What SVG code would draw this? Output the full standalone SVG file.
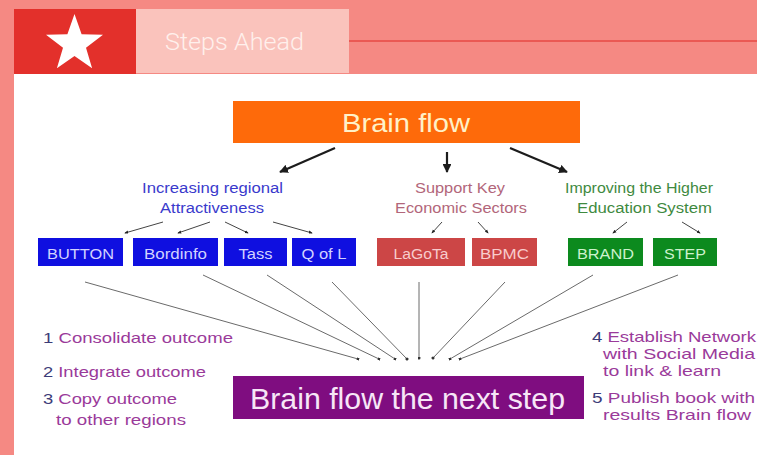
<svg xmlns="http://www.w3.org/2000/svg" width="757" height="455" viewBox="0 0 757 455">
<defs>
<style>
.t{font-family:"Liberation Sans",Arial,sans-serif}
.box{stroke:none}
.btxt{font-family:"Liberation Sans",Arial,sans-serif;font-size:14px;text-anchor:middle}
.big{stroke:#1c1c1c;stroke-width:2.2;fill:none}
.small{stroke:#444;stroke-width:1;fill:none}
.thin{stroke:#6a6a6a;stroke-width:1;fill:none}
.num{fill:#3c3c78}
.lst{fill:#9a3a9a}
</style>
<marker id="ah" viewBox="0 0 10 10" refX="9" refY="5" markerWidth="4" markerHeight="4" orient="auto" markerUnits="strokeWidth">
<path d="M0,0 L10,5 L0,10 z" fill="#1c1c1c"/>
</marker>
<marker id="sh" viewBox="0 0 10 10" refX="8" refY="5" markerWidth="4" markerHeight="4" orient="auto" markerUnits="strokeWidth">
<path d="M0,1 L10,5 L0,9 z" fill="#222"/>
</marker>
<marker id="dot" viewBox="0 0 10 10" refX="5" refY="5" markerWidth="3" markerHeight="3" orient="auto" markerUnits="strokeWidth">
<circle cx="5" cy="5" r="5" fill="#333"/>
</marker>
</defs>

<!-- background -->
<rect x="0" y="0" width="757" height="455" fill="#ffffff"/>
<rect x="0" y="0" width="757" height="74" fill="#f58983"/>
<rect x="0" y="0" width="14" height="455" fill="#f58983"/>
<line x1="349" y1="41" x2="757" y2="41" stroke="#e64a44" stroke-width="1.6"/>

<g id="header">
<rect x="14" y="9" width="122" height="65" fill="#e3302b"/>
<polygon points="74.5,14 81.6,34.3 103.0,34.7 86.0,47.7 92.1,68.3 74.5,56.1 56.9,68.3 63.0,47.7 46.0,34.7 67.4,34.3" fill="#ffffff"/>
<rect x="136" y="9" width="213" height="64" fill="#fac3bc"/>
<text x="165" y="50" font-family="Roboto,'Liberation Sans',sans-serif" font-weight="300" font-size="23" fill="#fff0ec" textLength="139" lengthAdjust="spacingAndGlyphs">Steps Ahead</text>
</g>

<g id="connectors">
<!-- from Brain flow to groups -->
<line class="big" x1="335" y1="148" x2="280" y2="172" marker-end="url(#ah)"/>
<line class="big" x1="447" y1="152" x2="447" y2="172" marker-end="url(#ah)"/>
<line class="big" x1="510" y1="148" x2="567" y2="172" marker-end="url(#ah)"/>
<!-- from group labels to boxes -->
<line class="small" x1="163" y1="222" x2="125" y2="233" marker-end="url(#sh)"/>
<line class="small" x1="210" y1="222" x2="178" y2="233" marker-end="url(#sh)"/>
<line class="small" x1="225" y1="222" x2="248" y2="233" marker-end="url(#sh)"/>
<line class="small" x1="273" y1="222" x2="312" y2="233" marker-end="url(#sh)"/>
<line class="small" x1="442" y1="222" x2="432" y2="233" marker-end="url(#sh)"/>
<line class="small" x1="478" y1="222" x2="488" y2="233" marker-end="url(#sh)"/>
<line class="small" x1="627" y1="222" x2="613" y2="233" marker-end="url(#sh)"/>
<line class="small" x1="682" y1="222" x2="700" y2="233" marker-end="url(#sh)"/>
<!-- from boxes to next step -->
<line class="thin" x1="85" y1="282" x2="358" y2="359" marker-end="url(#dot)"/>
<line class="thin" x1="203" y1="275" x2="379" y2="359" marker-end="url(#dot)"/>
<line class="thin" x1="267" y1="275" x2="395" y2="359" marker-end="url(#dot)" stroke="#7a86a8"/>
<line class="thin" x1="332" y1="282" x2="407" y2="359" marker-end="url(#dot)"/>
<line class="thin" x1="419" y1="282" x2="419" y2="358" marker-end="url(#dot)"/>
<line class="thin" x1="505" y1="282" x2="433" y2="358" marker-end="url(#dot)"/>
<line class="thin" x1="593" y1="275" x2="450" y2="359" marker-end="url(#dot)"/>
<line class="thin" x1="678" y1="275" x2="460" y2="359" marker-end="url(#dot)"/>
</g>

<g id="brain-flow">
<rect x="233" y="101" width="347" height="42" fill="#fe6a0a"/>
<text class="t" x="342" y="132" font-size="25" fill="#fff1c8" textLength="128" lengthAdjust="spacingAndGlyphs">Brain flow</text>
</g>

<g id="group-regional">
<text class="t" x="142" y="193" font-size="14" fill="#3a3acc" textLength="141" lengthAdjust="spacingAndGlyphs">Increasing regional</text>
<text class="t" x="160" y="213" font-size="14" fill="#3a3acc" textLength="104" lengthAdjust="spacingAndGlyphs">Attractiveness</text>
</g>
<g id="group-economic">
<text class="t" x="415" y="193" font-size="14" fill="#b2667a" textLength="90" lengthAdjust="spacingAndGlyphs">Support Key</text>
<text class="t" x="395" y="213" font-size="14" fill="#b2667a" textLength="132" lengthAdjust="spacingAndGlyphs">Economic Sectors</text>
</g>
<g id="group-education">
<text class="t" x="565" y="193" font-size="14" fill="#3f8a3f" textLength="148" lengthAdjust="spacingAndGlyphs">Improving the Higher</text>
<text class="t" x="577" y="213" font-size="14" fill="#3f8a3f" textLength="135" lengthAdjust="spacingAndGlyphs">Education System</text>
</g>

<g id="button"><rect class="box" x="38" y="238" width="85" height="28" fill="#0f0fe0"/><text class="btxt" x="80.5" y="259" fill="#d2d2ff" textLength="67" lengthAdjust="spacingAndGlyphs">BUTTON</text></g>
<g id="bordinfo"><rect class="box" x="133" y="238" width="85" height="28" fill="#0f0fe0"/><text class="btxt" x="175.5" y="259" fill="#d2d2ff" textLength="63" lengthAdjust="spacingAndGlyphs">Bordinfo</text></g>
<g id="tass"><rect class="box" x="224" y="238" width="63" height="28" fill="#0f0fe0"/><text class="btxt" x="255.5" y="259" fill="#d2d2ff" textLength="34" lengthAdjust="spacingAndGlyphs">Tass</text></g>
<g id="qofl"><rect class="box" x="292" y="238" width="64" height="28" fill="#0f0fe0"/><text class="btxt" x="324" y="259" fill="#d2d2ff" textLength="45" lengthAdjust="spacingAndGlyphs">Q of L</text></g>
<g id="lagota"><rect class="box" x="377" y="238" width="88" height="28" fill="#cc4646"/><text class="btxt" x="421" y="259" fill="#f8cccc" textLength="55" lengthAdjust="spacingAndGlyphs">LaGoTa</text></g>
<g id="bpmc"><rect class="box" x="472" y="238" width="65" height="28" fill="#cc4646"/><text class="btxt" x="504.5" y="259" fill="#f8cccc" textLength="49" lengthAdjust="spacingAndGlyphs">BPMC</text></g>
<g id="brand"><rect class="box" x="568" y="238" width="75" height="28" fill="#0c8a1e"/><text class="btxt" x="605.5" y="259" fill="#cdf2cd" textLength="57" lengthAdjust="spacingAndGlyphs">BRAND</text></g>
<g id="step"><rect class="box" x="653" y="238" width="64" height="28" fill="#0c8a1e"/><text class="btxt" x="685" y="259" fill="#cdf2cd" textLength="42" lengthAdjust="spacingAndGlyphs">STEP</text></g>

<g id="next-step">
<rect x="233" y="376" width="351" height="43" fill="#7f0d80"/>
<text class="t" x="250" y="409" font-size="29" fill="#f7e6f7" textLength="315" lengthAdjust="spacingAndGlyphs">Brain flow the next step</text>
</g>

<g id="list-left" class="t" font-size="15">
<text x="43" y="343" textLength="190" lengthAdjust="spacingAndGlyphs"><tspan class="num">1</tspan><tspan class="lst"> Consolidate outcome</tspan></text>
<text x="43" y="377" textLength="163" lengthAdjust="spacingAndGlyphs"><tspan class="num">2</tspan><tspan class="lst"> Integrate outcome</tspan></text>
<text x="43" y="404" textLength="134" lengthAdjust="spacingAndGlyphs"><tspan class="num">3</tspan><tspan class="lst"> Copy outcome</tspan></text>
<text x="56" y="425" textLength="130" lengthAdjust="spacingAndGlyphs" class="lst">to other regions</text>
</g>

<g id="list-right" class="t" font-size="15">
<text x="592" y="342" textLength="164" lengthAdjust="spacingAndGlyphs"><tspan class="num">4</tspan><tspan class="lst"> Establish Network</tspan></text>
<text x="603" y="359" textLength="152" lengthAdjust="spacingAndGlyphs" class="lst">with Social Media</text>
<text x="603" y="376" textLength="118" lengthAdjust="spacingAndGlyphs" class="lst">to link &amp; learn</text>
<text x="592" y="403" textLength="163" lengthAdjust="spacingAndGlyphs"><tspan class="num">5</tspan><tspan class="lst"> Publish book with</tspan></text>
<text x="603" y="420" textLength="148" lengthAdjust="spacingAndGlyphs" class="lst">results Brain flow</text>
</g>
</svg>
